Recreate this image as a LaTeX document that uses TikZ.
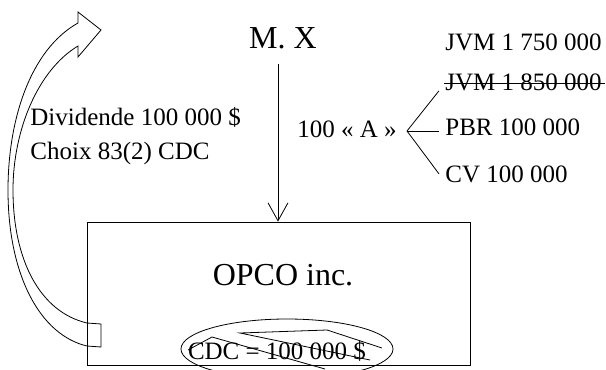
\documentclass[tikz,border=0pt]{standalone}
\usepackage{fontspec}
\setmainfont{Liberation Serif}
\usetikzlibrary{arrows.meta}

\begin{document}
\begin{tikzpicture}[x=1pt,y=-1pt,line width=0.8pt,>={Straight Barb[length=18pt,width=20pt]},big/.style={font=\fontsize{32}{38}\selectfont,inner sep=0pt},txt/.style={font=\fontsize{25}{30}\selectfont,inner sep=0pt}]
  \clip (0,0) rectangle (606,370);
  \node[draw,minimum width=383pt,minimum height=143pt,inner sep=0pt] (box) at (278.5,293.5) {};
  \node[big,anchor=base] (mx) at (283,48) {M. X};
  \node[big,anchor=base] (opco) at (283,285) {OPCO inc.};
  \node[txt,anchor=base] (cdc) at (277,359) {CDC = 100 000 \$};
  % lasso round the CDC
  \draw (287,349) ellipse [x radius=106,y radius=30];
  \draw (188,350) -- (212,337) -- (325,369);
  \draw (370,360) -- (240,333) -- (327,330) -- (382,348);
  \coordinate (mxfoot) at (278,64);
  \draw[->] (mxfoot) -- (mxfoot |- box.north);
  \node[txt,anchor=base west] (div) at (30,125) {Dividende 100 000 \$};
  \node[txt,anchor=base west] (choix) at (30,159) {Choix 83(2) CDC};
  \node[txt,anchor=base east] (actions) at (397,137) {100 « A »};
  \coordinate (fork) at (407,131);
  \node[txt,anchor=base west] (jvma) at (445,50) {JVM 1 750 000};
  \node[txt,anchor=base west] (jvmb) at (445,90) {JVM 1 850 000};
  \node[txt,anchor=base west] (pbr) at (445,135) {PBR 100 000};
  \node[txt,anchor=base west] (cv) at (445,182) {CV 100 000};
  \draw (fork) -- ([xshift=-6pt]jvmb.south west);
  \coordinate (pbrin) at ([xshift=-6pt]pbr.west);
  \draw (fork) -- (fork -| pbrin);
  \draw (fork) -- ([xshift=-6pt]cv.west);
  \draw ([xshift=-1pt,yshift=-1.5pt]jvmb.west) -- ([xshift=3pt,yshift=-1.5pt]jvmb.east);
  % dividend block arrow
  \draw (101,347) -- (87,346) .. controls (40,335) and (8,275) .. (8,190) .. controls (8,120) and (30,50) .. (78,23) -- (78,12) -- (101,30) -- (78,57) -- (78,46) .. controls (38,70) and (13,130) .. (13,190) .. controls (13,260) and (40,312) .. (87,323) -- (101,324) -- cycle;
\end{tikzpicture}
\end{document}
